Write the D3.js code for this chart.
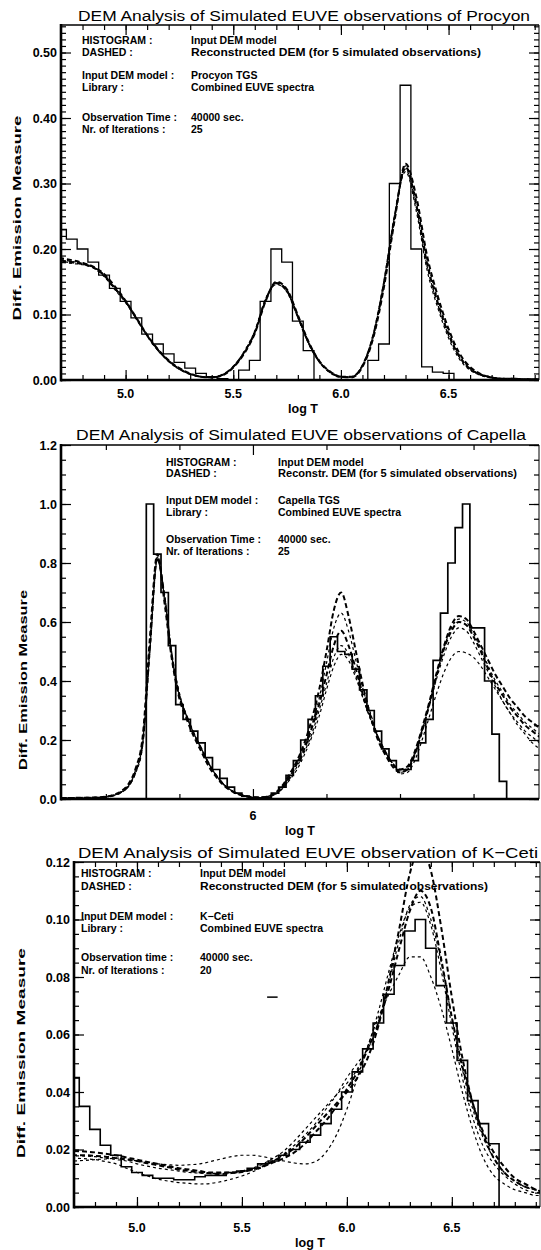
<!DOCTYPE html>
<html><head><meta charset="utf-8">
<script src="https://cdn.jsdelivr.net/npm/d3@7"></script>
<style>
body{margin:0;background:#fff}
svg{display:block}
text{font-family:"Liberation Sans",Arial,Helvetica,sans-serif;fill:#000}
</style>
</head><body>
<svg id="c" width="541" height="1250"></svg>
<script>
// ---------------- DATA ----------------
const gridWide = [4.70,4.75,4.80,4.85,4.90,4.95,5.00,5.05,5.10,5.15,5.20,5.25,5.30,5.35,5.40,5.45,5.50,5.55,5.60,5.65,5.70,5.75,5.80,5.85,5.90,5.95,6.00,6.05,6.10,6.15,6.20,6.25,6.30,6.35,6.40,6.45,6.50,6.55,6.60,6.65,6.70,6.75,6.80,6.85,6.90,6.95];

const procyonHist = [0.230,0.215,0.200,0.180,0.160,0.140,0.120,0.095,0.070,0.055,0.040,0.027,0.018,0.010,0.005,0.002,0.000,0.015,0.030,0.120,0.200,0.180,0.090,0.045,0,0,0,0,0,0.030,0.055,0.300,0.450,0.200,0.020,0.012,0.010,0,0,0,0,0,0,0,0,0];
const procyonDem1 = [0.182,0.180,0.177,0.172,0.160,0.140,0.120,0.094,0.068,0.046,0.029,0.017,0.009,0.005,0.004,0.008,0.020,0.042,0.073,0.122,0.148,0.136,0.097,0.057,0.028,0.012,0.005,0.005,0.022,0.068,0.148,0.250,0.325,0.268,0.178,0.118,0.070,0.036,0.017,0.008,0.004,0.002,0.002,0.001,0.001,0.001];
const procyonDem2 = [0.186,0.183,0.179,0.173,0.162,0.143,0.121,0.095,0.069,0.047,0.030,0.018,0.010,0.005,0.004,0.007,0.019,0.040,0.071,0.120,0.150,0.138,0.099,0.058,0.029,0.013,0.005,0.004,0.020,0.064,0.142,0.245,0.330,0.280,0.190,0.128,0.078,0.041,0.020,0.009,0.004,0.002,0.002,0.001,0.001,0.001];
const procyonDem3 = [0.180,0.178,0.176,0.171,0.158,0.138,0.118,0.093,0.067,0.045,0.028,0.016,0.009,0.005,0.004,0.008,0.021,0.043,0.075,0.124,0.147,0.134,0.095,0.055,0.027,0.011,0.004,0.005,0.023,0.070,0.152,0.254,0.318,0.258,0.168,0.110,0.064,0.032,0.015,0.007,0.003,0.002,0.001,0.001,0.001,0.001];
const procyonDem4 = [0.184,0.181,0.178,0.172,0.161,0.141,0.119,0.094,0.068,0.046,0.029,0.017,0.009,0.005,0.004,0.008,0.020,0.041,0.072,0.121,0.149,0.137,0.098,0.057,0.028,0.012,0.005,0.005,0.021,0.066,0.146,0.248,0.327,0.274,0.184,0.123,0.074,0.038,0.018,0.008,0.004,0.002,0.002,0.001,0.001,0.001];
const procyonDem5 = [0.181,0.179,0.177,0.172,0.159,0.139,0.120,0.094,0.068,0.046,0.029,0.017,0.009,0.005,0.004,0.008,0.020,0.042,0.073,0.122,0.146,0.135,0.096,0.056,0.028,0.012,0.005,0.005,0.022,0.068,0.150,0.251,0.322,0.264,0.174,0.115,0.068,0.035,0.016,0.008,0.004,0.002,0.001,0.001,0.001,0.001];

const gridCapella = [5.48,5.50,5.52,5.54,5.56,5.58,5.60,5.62,5.64,5.66,5.68,5.70,5.72,5.74,5.76,5.78,5.80,5.82,5.84,5.86,5.88,5.90,5.92,5.94,5.96,5.98,6.00,6.02,6.04,6.06,6.08,6.10,6.12,6.14,6.16,6.18,6.20,6.22,6.24,6.26,6.28,6.30,6.32,6.34,6.36,6.38,6.40,6.42,6.44,6.46,6.48,6.50,6.52,6.54,6.56,6.58,6.60,6.62,6.64,6.66,6.68,6.70,6.72,6.74,6.76,6.78];
const capellaHist = [0,0,0,0,0,0,0,0,0,0,0,0,1.00,0.83,0.70,0.52,0.32,0.27,0.23,0.19,0.14,0.10,0.07,0.04,0.02,0.01,0.004,0.002,0.005,0.02,0.04,0.08,0.13,0.20,0.27,0.35,0.45,0.55,0.50,0.49,0.44,0.37,0.30,0.23,0.17,0.13,0.10,0.10,0.13,0.19,0.27,0.47,0.63,0.80,0.92,1.00,0.58,0.58,0.40,0.22,0.06,0,0,0,0,0];
const capellaDem1 = [0.003,0.003,0.003,0.004,0.004,0.005,0.007,0.012,0.022,0.042,0.09,0.19,0.52,0.82,0.68,0.48,0.35,0.28,0.22,0.17,0.12,0.08,0.05,0.03,0.018,0.01,0.006,0.005,0.008,0.018,0.04,0.075,0.12,0.17,0.24,0.32,0.42,0.52,0.57,0.52,0.44,0.35,0.28,0.21,0.16,0.12,0.10,0.11,0.16,0.24,0.33,0.43,0.52,0.59,0.62,0.61,0.57,0.52,0.47,0.42,0.38,0.34,0.31,0.28,0.26,0.24];
const capellaDem2 = [0.003,0.003,0.004,0.004,0.005,0.006,0.008,0.014,0.025,0.048,0.10,0.21,0.55,0.83,0.66,0.47,0.34,0.27,0.21,0.16,0.11,0.075,0.047,0.028,0.016,0.009,0.005,0.005,0.008,0.02,0.045,0.085,0.13,0.19,0.27,0.37,0.50,0.64,0.70,0.62,0.50,0.38,0.28,0.20,0.15,0.11,0.09,0.10,0.15,0.23,0.32,0.42,0.51,0.57,0.60,0.59,0.55,0.50,0.44,0.39,0.35,0.31,0.28,0.25,0.23,0.21];
const capellaDem3 = [0.002,0.003,0.003,0.003,0.004,0.005,0.007,0.011,0.02,0.04,0.085,0.18,0.50,0.81,0.69,0.49,0.36,0.28,0.22,0.17,0.12,0.08,0.05,0.03,0.017,0.01,0.006,0.006,0.009,0.019,0.042,0.08,0.125,0.18,0.25,0.34,0.46,0.58,0.63,0.57,0.47,0.37,0.29,0.21,0.16,0.12,0.095,0.105,0.155,0.235,0.325,0.425,0.515,0.58,0.61,0.60,0.56,0.51,0.45,0.40,0.36,0.32,0.29,0.26,0.24,0.22];
const capellaDem4 = [0.003,0.003,0.003,0.004,0.004,0.005,0.007,0.012,0.022,0.044,0.095,0.20,0.53,0.82,0.67,0.48,0.35,0.28,0.22,0.17,0.12,0.08,0.05,0.03,0.018,0.01,0.006,0.005,0.007,0.016,0.036,0.068,0.11,0.16,0.22,0.30,0.39,0.48,0.52,0.49,0.42,0.34,0.27,0.21,0.16,0.12,0.09,0.10,0.15,0.23,0.32,0.41,0.49,0.55,0.58,0.57,0.53,0.48,0.43,0.38,0.33,0.29,0.26,0.23,0.21,0.19];
const capellaDem5 = [0.003,0.003,0.003,0.004,0.004,0.005,0.007,0.012,0.022,0.042,0.09,0.19,0.51,0.81,0.68,0.48,0.35,0.28,0.22,0.17,0.12,0.08,0.05,0.03,0.018,0.01,0.006,0.005,0.007,0.015,0.034,0.065,0.10,0.15,0.21,0.28,0.37,0.45,0.49,0.47,0.41,0.34,0.27,0.21,0.16,0.12,0.085,0.09,0.13,0.20,0.28,0.36,0.43,0.48,0.50,0.495,0.48,0.45,0.41,0.37,0.33,0.29,0.25,0.22,0.19,0.17];

const kcetiHist = [0.045,0.035,0.027,0.0215,0.018,0.014,0.012,0.011,0.010,0.010,0.0095,0.0095,0.0105,0.011,0.011,0.012,0.0125,0.0135,0.015,0.016,0.018,0.020,0.0225,0.025,0.029,0.034,0.040,0.047,0.055,0.064,0.074,0.084,0.096,0.100,0.090,0.077,0.064,0.051,0.037,0.029,0.022,0,0,0,0,0];
const kcetiDem1 = [0.0195,0.0193,0.019,0.0185,0.018,0.0172,0.0165,0.0157,0.015,0.0142,0.0135,0.013,0.0125,0.012,0.012,0.012,0.0125,0.013,0.014,0.0155,0.017,0.019,0.022,0.026,0.030,0.035,0.041,0.047,0.055,0.064,0.076,0.090,0.103,0.110,0.104,0.086,0.066,0.049,0.036,0.026,0.019,0.014,0.010,0.008,0.006,0.005];
const kcetiDem2 = [0.018,0.018,0.0178,0.0175,0.017,0.0165,0.016,0.0152,0.0145,0.0138,0.013,0.0125,0.012,0.0117,0.0115,0.0118,0.0122,0.013,0.0142,0.016,0.018,0.0205,0.024,0.028,0.032,0.036,0.040,0.045,0.052,0.063,0.079,0.097,0.116,0.125,0.117,0.097,0.073,0.052,0.036,0.025,0.017,0.012,0.009,0.007,0.006,0.005];
const kcetiDem3 = [0.0178,0.0177,0.0175,0.017,0.0165,0.016,0.015,0.0142,0.0135,0.013,0.0125,0.012,0.0118,0.0117,0.0118,0.012,0.0125,0.0135,0.015,0.017,0.0195,0.023,0.027,0.031,0.035,0.039,0.043,0.048,0.056,0.068,0.082,0.095,0.104,0.106,0.098,0.082,0.063,0.045,0.031,0.021,0.015,0.011,0.008,0.006,0.005,0.005];
const kcetiDem4 = [0.016,0.0162,0.0165,0.0167,0.017,0.0167,0.016,0.0155,0.015,0.0147,0.0145,0.0147,0.015,0.0158,0.0167,0.0175,0.018,0.018,0.0175,0.0168,0.016,0.0153,0.015,0.0158,0.019,0.025,0.034,0.045,0.056,0.066,0.074,0.081,0.087,0.087,0.080,0.069,0.055,0.040,0.027,0.017,0.011,0.008,0.006,0.005,0.004,0.004];
const kcetiDem5 = [0.017,0.0168,0.0165,0.0158,0.015,0.0135,0.012,0.0108,0.0097,0.009,0.0085,0.0082,0.008,0.0082,0.0088,0.0097,0.0108,0.0122,0.014,0.016,0.0185,0.0215,0.025,0.029,0.034,0.039,0.045,0.050,0.055,0.064,0.078,0.093,0.105,0.108,0.100,0.085,0.066,0.048,0.034,0.024,0.017,0.012,0.009,0.007,0.006,0.005];
const kcetiMark = [[5.62,0.073],[5.67,0.073]];

const procyonYTicks = [0.00,0.10,0.20,0.30,0.40,0.50];
const procyonYLabels = ["0.00","0.10","0.20","0.30","0.40","0.50"];
const capellaYTicks = [0.0,0.2,0.4,0.6,0.8,1.0,1.2];
const capellaYLabels = ["0.0","0.2","0.4","0.6","0.8","1.0","1.2"];
const kcetiYTicks = [0.00,0.02,0.04,0.06,0.08,0.10,0.12];
const kcetiYLabels = ["0.00","0.02","0.04","0.06","0.08","0.10","0.12"];
const logTTicks = [5.0,5.5,6.0,6.5];
const logTLabels = ["5.0","5.5","6.0","6.5"];
const capellaXTicks = [6];
const capellaXLabels = ["6"];

const legendKeys = ["HISTOGRAM :","DASHED :","Input DEM model :","Library :","Observation Time :","Nr. of Iterations :"];
const legendKeysK = ["HISTOGRAM :","DASHED :","Input DEM model :","Library :","Observation time :","Nr. of Iterations :"];
const procyonLegend = ["Input DEM model","Reconstructed DEM (for 5 simulated observations)","Procyon TGS","Combined EUVE spectra","40000 sec.","25"];
const capellaLegend = ["Input DEM model","Reconstr. DEM (for 5 simulated observations)","Capella TGS","Combined EUVE spectra","40000 sec.","25"];
const kcetiLegend = ["Input DEM model","Reconstructed DEM (for 5 simulated observations)","K\u2212Ceti","Combined EUVE spectra","40000 sec.","20"];

const titles = ["DEM Analysis of Simulated EUVE observations of Procyon",
                "DEM Analysis of Simulated EUVE observations of Capella",
                "DEM Analysis of Simulated EUVE observation of K\u2212Ceti"];
const xTitle = "log T";
const yTitle = "Diff. Emission Measure";

// ---------------- DRAW ----------------
const svg = d3.select("#c");

function panel(c){
  const x = d3.scaleLinear().domain(c.xDomain).range([c.left, c.right]);
  const y = d3.scaleLinear().domain(c.yDomain).range([c.bottom, c.top]);
  const g = svg.append("g");
  const cid = "clip" + c.id;
  svg.append("clipPath").attr("id", cid).append("rect")
     .attr("x", c.left).attr("y", c.top).attr("width", c.right - c.left).attr("height", c.bottom - c.top);
  const plot = g.append("g").attr("clip-path", `url(#${cid})`);

  const stepLine = d3.line().x(d => x(d[0])).y(d => y(d[1])).curve(d3.curveStep);
  const smooth = d3.line().x(d => x(d[0])).y(d => y(d[1])).curve(d3.curveMonotoneX);

  plot.append("path").datum(c.grid.map((t, i) => [t, c.hist[i]]))
    .attr("d", stepLine).attr("fill", "none").attr("stroke", "#000").attr("stroke-width", c.histW);

  c.dems.forEach((arr, k) => {
    plot.append("path").datum(c.grid.map((t, i) => [t, arr[i]]))
      .attr("d", smooth).attr("fill", "none").attr("stroke", "#000")
      .attr("stroke-width", k < 2 ? 2.0 : 1.2)
      .attr("stroke-dasharray", k < 2 ? "5,3" : "3,3")
      .attr("stroke-dashoffset", k * 2);
  });

  if (c.mark) {
    plot.append("path").datum(c.mark).attr("d", d3.line().x(d => x(d[0])).y(d => y(d[1])))
      .attr("stroke", "#000").attr("stroke-width", 1.5);
  }

  const tickStyle = sel => { sel.select(".domain").remove(); sel.selectAll("line").attr("stroke", "#000").attr("stroke-width", 1.2); sel.selectAll("text").remove(); };
  const yMinor = d3.range(c.yDomain[0], c.yDomain[1] + 1e-9, c.yMinor);
  const xMinor = c.xMinor;
  g.append("g").attr("transform", `translate(${c.left},0)`).call(d3.axisLeft(y).tickValues(c.yTicks).tickSize(-10)).call(tickStyle);
  g.append("g").attr("transform", `translate(${c.left},0)`).call(d3.axisLeft(y).tickValues(yMinor).tickSize(-5)).call(tickStyle);
  g.append("g").attr("transform", `translate(${c.right},0)`).call(d3.axisRight(y).tickValues(c.yTicks).tickSize(-10)).call(tickStyle);
  g.append("g").attr("transform", `translate(${c.right},0)`).call(d3.axisRight(y).tickValues(yMinor).tickSize(-5)).call(tickStyle);
  g.append("g").attr("transform", `translate(0,${c.bottom})`).call(d3.axisBottom(x).tickValues(c.xTicks).tickSize(-10)).call(tickStyle);
  g.append("g").attr("transform", `translate(0,${c.bottom})`).call(d3.axisBottom(x).tickValues(xMinor).tickSize(-5)).call(tickStyle);
  g.append("g").attr("transform", `translate(0,${c.top})`).call(d3.axisTop(x).tickValues(c.xTicks).tickSize(-10)).call(tickStyle);
  g.append("g").attr("transform", `translate(0,${c.top})`).call(d3.axisTop(x).tickValues(xMinor).tickSize(-5)).call(tickStyle);

  g.append("line").attr("x1", c.left).attr("x2", c.left).attr("y1", c.top - 1).attr("y2", c.bottom + 1.5).attr("stroke", "#000").attr("stroke-width", 2.6);
  g.append("line").attr("x1", c.left).attr("x2", c.right).attr("y1", c.bottom).attr("y2", c.bottom).attr("stroke", "#000").attr("stroke-width", 2.6);
  g.append("line").attr("x1", c.left).attr("x2", c.right).attr("y1", c.top).attr("y2", c.top).attr("stroke", "#000").attr("stroke-width", 1.6);
  g.append("line").attr("x1", c.right).attr("x2", c.right).attr("y1", c.top).attr("y2", c.bottom).attr("stroke", "#000").attr("stroke-width", 1);

  g.selectAll(".yl").data(c.yTicks).enter().append("text")
    .attr("x", c.left - 4).attr("y", d => y(d)).attr("dy", "0.36em")
    .attr("text-anchor", "end").attr("font-size", 12.5).attr("font-weight", "bold")
    .text((d, i) => c.yLabels[i]);
  g.selectAll(".xl").data(c.xTicks).enter().append("text")
    .attr("x", d => x(d)).attr("y", c.xLabelY)
    .attr("text-anchor", "middle").attr("font-size", 12.5).attr("font-weight", "bold")
    .text((d, i) => c.xLabels[i]);
  g.append("text").attr("x", c.xTitleX).attr("y", c.xTitleY).attr("text-anchor", "middle")
    .attr("font-size", 12.5).attr("font-weight", "bold").text(xTitle);
  g.append("text").attr("transform", `translate(${c.yTitleX},${c.yTitleY}) rotate(-90)`)
    .attr("text-anchor", "middle").attr("font-size", 11.5).attr("font-weight", "bold")
    .attr("textLength", c.yTitleLen).attr("lengthAdjust", "spacingAndGlyphs").text(yTitle);

  g.append("text").attr("x", c.titleX).attr("y", c.titleY).attr("font-size", 15.5)
    .attr("textLength", c.titleLen).attr("lengthAdjust", "spacingAndGlyphs").text(c.title);

  c.legendKeys.forEach((t, i) => {
    g.append("text").attr("x", c.col1).attr("y", c.rows[i]).attr("font-size", 10.5).attr("font-weight", "bold").text(t);
    const v = g.append("text").attr("x", c.col2).attr("y", c.rows[i]).attr("font-size", 10.5).attr("font-weight", "bold").text(c.legendVals[i]);
    if (i === 1) v.attr("textLength", c.longLen).attr("lengthAdjust", "spacingAndGlyphs");
  });
}

panel({
  id: 1, left: 61, right: 539, top: 25, bottom: 380,
  xDomain: [4.7, 6.92], yDomain: [0, 0.542],
  grid: gridWide, hist: procyonHist, histW: 1.3,
  dems: [procyonDem1, procyonDem2, procyonDem3, procyonDem4, procyonDem5],
  yTicks: procyonYTicks, yLabels: procyonYLabels, yMinor: 0.01,
  xTicks: logTTicks, xLabels: logTLabels, xMinor: d3.range(4.8, 6.91, 0.1),
  xLabelY: 398, xTitleX: 303, xTitleY: 413, yTitleX: 21, yTitleY: 218, yTitleLen: 205,
  title: titles[0], titleX: 78, titleY: 21, titleLen: 452,
  legendKeys: legendKeys, legendVals: procyonLegend, col1: 82, col2: 191,
  rows: [44, 56, 79, 91, 121, 133], longLen: 290
});

panel({
  id: 2, left: 61, right: 539, top: 445, bottom: 799,
  xDomain: [5.478, 6.778], yDomain: [0, 1.2],
  grid: gridCapella, hist: capellaHist, histW: 1.7,
  dems: [capellaDem1, capellaDem2, capellaDem3, capellaDem4, capellaDem5],
  yTicks: capellaYTicks, yLabels: capellaYLabels, yMinor: 0.05,
  xTicks: capellaXTicks, xLabels: capellaXLabels, xMinor: [5.6, 5.8, 6.2, 6.4, 6.6],
  xLabelY: 820, xTitleX: 300, xTitleY: 835, yTitleX: 27, yTitleY: 680, yTitleLen: 180,
  title: titles[1], titleX: 76, titleY: 440, titleLen: 450,
  legendKeys: legendKeys, legendVals: capellaLegend, col1: 166, col2: 278,
  rows: [466, 477, 504, 516, 543, 555], longLen: 239
});

panel({
  id: 3, left: 74, right: 540, top: 862, bottom: 1207,
  xDomain: [4.7, 6.92], yDomain: [0, 0.12],
  grid: gridWide, hist: kcetiHist, histW: 1.6,
  dems: [kcetiDem1, kcetiDem2, kcetiDem3, kcetiDem4, kcetiDem5],
  mark: kcetiMark,
  yTicks: kcetiYTicks, yLabels: kcetiYLabels, yMinor: 0.005,
  xTicks: logTTicks, xLabels: logTLabels, xMinor: d3.range(4.8, 6.91, 0.1),
  xLabelY: 1232, xTitleX: 310, xTitleY: 1247, yTitleX: 25, yTitleY: 1053, yTitleLen: 210,
  title: titles[2], titleX: 78, titleY: 858, titleLen: 460,
  legendKeys: legendKeysK, legendVals: kcetiLegend, col1: 81, col2: 200,
  rows: [877, 890, 920, 932, 961, 974], longLen: 288
});
</script>
</body></html>
